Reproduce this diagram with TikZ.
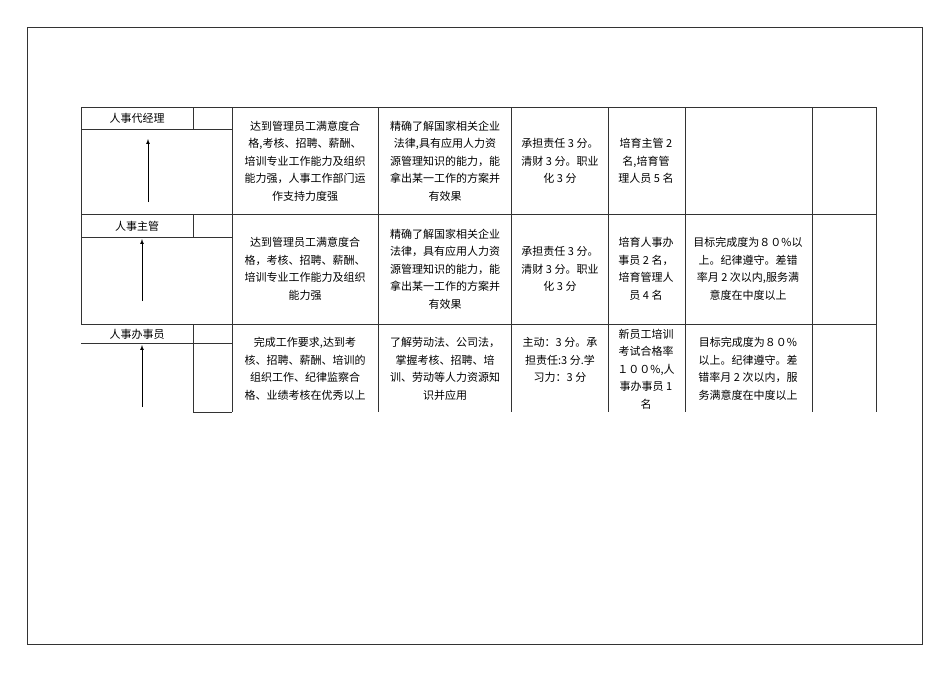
\documentclass[tikz,border=0pt]{standalone}
\usepackage{fontspec}
\setmainfont{Noto Sans CJK SC}
\begin{document}
\begin{tikzpicture}[x=1pt,y=-1pt,
  ln/.style={draw=black!80,line width=0.6pt},
  cell/.style={align=center,font=\fontsize{11}{17.5}\selectfont,inner sep=0pt},
  arr/.style={draw=black,line width=0.7pt,-latex}]
\useasboundingbox (0,0) rectangle (950,672);
\draw[ln] (27,27) rectangle (922,644);
% horizontal lines
\draw[ln] (81,107) -- (876,107);
\draw[ln] (81,214) -- (876,214);
\draw[ln] (81,324) -- (876,324);
\draw[ln] (81,129) -- (193,129);
\draw[ln] (81,237) -- (193,237);
\draw[ln] (81,343) -- (193,343);
\draw[ln] (193,129) -- (232,129);
\draw[ln] (193,237) -- (232,237);
\draw[ln] (193,343) -- (232,343);
\draw[ln] (193,412) -- (232,412);
% verticals
\draw[ln] (81,107) -- (81,324);
\draw[ln] (193,107) -- (193,129);
\draw[ln] (193,214) -- (193,237);
\draw[ln] (193,324) -- (193,412);
\foreach \x in {232,378,511,608,685,812,876} \draw[ln] (\x,107) -- (\x,412);
% titles
\node[cell] (t1) at (137,118) {人事代经理};
\node[cell] (t2) at (137,226) {人事主管};
\node[cell] (t3) at (137,334) {人事办事员};
\coordinate (a1) at (148,202); \coordinate (b1) at (148,139);
\coordinate (a2) at (142,301); \coordinate (b2) at (142,239);
\coordinate (a3) at (142,407); \coordinate (b3) at (142,345);
\draw[arr] (a1) -- (b1);
\draw[arr] (a2) -- (b2);
\draw[arr] (a3) -- (b3);
% row 1
\node[cell] (r1c1) at (305,161) {达到管理员工满意度合\\格,考核、招聘、薪酬、\\培训专业工作能力及组织\\能力强，人事工作部门运\\作支持力度强};
\node[cell] (r1c2) at (445,161) {精确了解国家相关企业\\法律,具有应用人力资\\源管理知识的能力，能\\拿出某一工作的方案并\\有效果};
\node[cell] (r1c3) at (560,161) {承担责任 3 分。\\清财 3 分。职业\\化 3 分};
\node[cell] (r1c4) at (646,161) {培育主管 2\\名,培育管\\理人员 5 名};
% row 2
\node[cell] (r2c1) at (305,269) {达到管理员工满意度合\\格，考核、招聘、薪酬、\\培训专业工作能力及组织\\能力强};
\node[cell] (r2c2) at (445,269) {精确了解国家相关企业\\法律，具有应用人力资\\源管理知识的能力，能\\拿出某一工作的方案并\\有效果};
\node[cell] (r2c3) at (560,269) {承担责任 3 分。\\清财 3 分。职业\\化 3 分};
\node[cell] (r2c4) at (646,269) {培育人事办\\事员 2 名，\\培育管理人\\员 4 名};
\node[cell] (r2c5) at (748,269) {目标完成度为８０\%以\\上。纪律遵守。差错\\率月 2 次以内,服务满\\意度在中度以上};
% row 3
\node[cell] (r3c1) at (305,369) {完成工作要求,达到考\\核、招聘、薪酬、培训的\\组织工作、纪律监察合\\格、业绩考核在优秀以上};
\node[cell] (r3c2) at (445,369) {了解劳动法、公司法，\\掌握考核、招聘、培\\训、劳动等人力资源知\\识并应用};
\node[cell] (r3c3) at (560,360) {主动：3 分。承\\担责任:3 分.学\\习力：3 分};
\node[cell] (r3c4) at (646,369) {新员工培训\\考试合格率\\１００\%,人\\事办事员 1\\名};
\node[cell] (r3c5) at (748,369) {目标完成度为８０\%\\以上。纪律遵守。差\\错率月 2 次以内，服\\务满意度在中度以上};
\end{tikzpicture}
\end{document}
